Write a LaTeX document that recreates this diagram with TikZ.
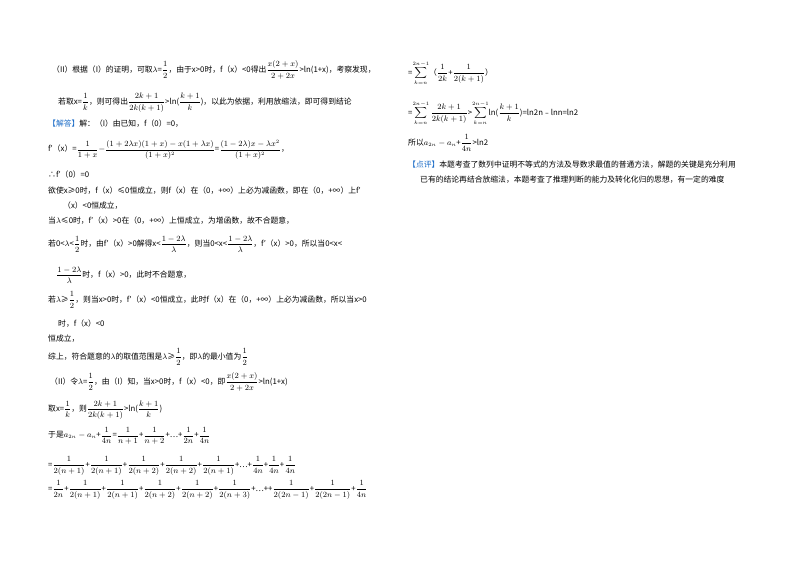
\documentclass[tikz,border=0pt]{standalone}
\usepackage{fontspec}
\usepackage{amsmath}
\setmainfont{Liberation Serif}
\newfontfamily\cjk{Noto Sans CJK SC}
\definecolor{hl}{RGB}{30,110,200}
\everymath{\displaystyle}
\begin{document}
\begin{tikzpicture}[x=1pt,y=1pt,
  ln/.style={anchor=west,inner sep=0pt,font=\cjk\fontsize{7.8}{9}\selectfont}]
\useasboundingbox[fill=white] (0,0) rectangle (800,-565);
\node[ln] (l1) at (52,-70) {（II）根据（I）的证明，可取$\lambda$=$\frac12$，由于x>0时，f（x）<0得出$\frac{x(2+x)}{2+2x}$>ln(1+x)，考察发现，};
\node[ln] (l2) at (58,-103) {若取x=$\frac1k$，则可得出$\frac{2k+1}{2k(k+1)}$>ln($\frac{k+1}{k}$)，以此为依据，利用放缩法，即可得到结论};
\node[ln] (l3) at (48,-124) {\textcolor{hl}{【解答】}解：（I）由已知，f（0）=0，};
\node[ln] (l4) at (48,-150) {f′（x）=$\frac{1}{1+x}$$-\frac{(1+2\lambda x)(1+x)-x(1+\lambda x)}{(1+x)^2}$=$\frac{(1-2\lambda)x-\lambda x^2}{(1+x)^2}$，};
\node[ln] (l5) at (48,-175) {∴f′（0）=0};
\node[ln] (l6) at (48,-191) {欲使x≥0时，f（x）≤0恒成立，则f（x）在（0，+∞）上必为减函数，即在（0，+∞）上f′};
\node[ln] (l7) at (63,-206) {（x）<0恒成立，};
\node[ln] (l8) at (48,-221) {当$\lambda$≤0时，f′（x）>0在（0，+∞）上恒成立，为增函数，故不合题意，};
\node[ln] (l9) at (48,-244) {若0<$\lambda$<$\frac12$时，由f′（x）>0解得x<$\frac{1-2\lambda}{\lambda}$，则当0<x<$\frac{1-2\lambda}{\lambda}$，f′（x）>0，所以当0<x<};
\node[ln] (l10) at (56,-275) {$\frac{1-2\lambda}{\lambda}$时，f（x）>0，此时不合题意，};
\node[ln] (l11) at (48,-300) {若$\lambda$≥$\frac12$，则当x>0时，f′（x）<0恒成立，此时f（x）在（0，+∞）上必为减函数，所以当x>0};
\node[ln] (l12) at (58,-324) {时，f（x）<0};
\node[ln] (l13) at (48,-339) {恒成立，};
\node[ln] (l14) at (48,-357) {综上，符合题意的$\lambda$的取值范围是$\lambda$≥$\frac12$，即$\lambda$的最小值为$\frac12$};
\node[ln] (l15) at (50,-382) {（II）令$\lambda$=$\frac12$，由（I）知，当x>0时，f（x）<0，即$\frac{x(2+x)}{2+2x}$>ln(1+x)};
\node[ln] (l16) at (48,-410) {取x=$\frac1k$，则$\frac{2k+1}{2k(k+1)}$>ln($\frac{k+1}{k}$)};
\node[ln] (l17) at (48,-436) {于是$a_{2n}-a_n$+$\frac{1}{4n}$=$\frac{1}{n+1}$+$\frac{1}{n+2}$+…+$\frac{1}{2n}$+$\frac{1}{4n}$};
\node[ln] (l18) at (48,-466) {=$\frac{1}{2(n+1)}$+$\frac{1}{2(n+1)}$+$\frac{1}{2(n+2)}$+$\frac{1}{2(n+2)}$+$\frac{1}{2(n+1)}$+…+$\frac{1}{4n}$+$\frac{1}{4n}$+$\frac{1}{4n}$};
\node[ln] (l19) at (48,-490) {=$\frac{1}{2n}$+$\frac{1}{2(n+1)}$+$\frac{1}{2(n+1)}$+$\frac{1}{2(n+2)}$+$\frac{1}{2(n+2)}$+$\frac{1}{2(n+3)}$+…++$\frac{1}{2(2n-1)}$+$\frac{1}{2(2n-1)}$+$\frac{1}{4n}$};
\node[ln] (r1) at (408,-73) {=$\sum_{k=n}^{2n-1}$（$\frac{1}{2k}$+$\frac{1}{2(k+1)}$）};
\node[ln] (r2) at (408,-113) {=$\sum_{k=n}^{2n-1}\frac{2k+1}{2k(k+1)}$>$\sum_{k=n}^{2n-1}$ln($\frac{k+1}{k}$)=ln2n﹣lnn=ln2};
\node[ln] (r3) at (408,-143) {所以$a_{2n}-a_n$+$\frac{1}{4n}$>ln2};
\node[ln] (r4) at (408,-165) {\textcolor{hl}{【点评】}本题考查了数列中证明不等式的方法及导数求最值的普通方法，解题的关键是充分利用};
\node[ln] (r5) at (420,-180) {已有的结论再结合放缩法，本题考查了推理判断的能力及转化化归的思想，有一定的难度};
\end{tikzpicture}
\end{document}
